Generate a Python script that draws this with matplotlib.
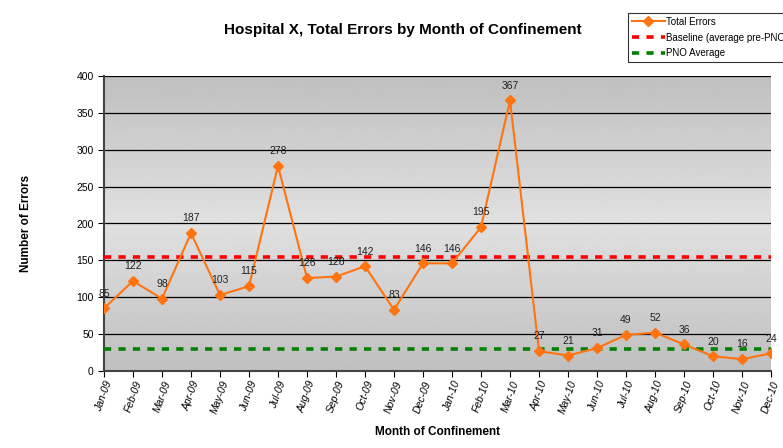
import numpy as np
import matplotlib
matplotlib.use('Agg')
import matplotlib.pyplot as plt

plt.rcParams['font.family'] = ['Liberation Sans', 'DejaVu Sans']

# ── Data ─────────────────────────────────────────────────────────────────────
months = ['Jan-09', 'Feb-09', 'Mar-09', 'Apr-09', 'May-09', 'Jun-09', 'Jul-09', 'Aug-09',
          'Sep-09', 'Oct-09', 'Nov-09', 'Dec-09', 'Jan-10', 'Feb-10', 'Mar-10', 'Apr-10',
          'May-10', 'Jun-10', 'Jul-10', 'Aug-10', 'Sep-10', 'Oct-10', 'Nov-10', 'Dec-10']
total_errors = [85, 122, 98, 187, 103, 115, 278, 126, 128, 142, 83, 146,
                146, 195, 367, 27, 21, 31, 49, 52, 36, 20, 16, 24]
baseline = 155
pno_average = 30

ORANGE = '#FF7410'

# ── Figure ───────────────────────────────────────────────────────────────────
fig = plt.figure(figsize=(7.83, 4.48), dpi=100)
ax = fig.add_axes([104/783, 1 - 371/448, (771 - 104)/783, (371 - 76)/448])

x = np.arange(len(months))

# gradient background: darker at top/bottom, lighter in the middle
t = np.linspace(0, 1, 256)
g = 0.75 + 0.13 * (1 - np.abs(2 * t - 1))
grad = np.repeat(g[:, None], 2, axis=1)
ax.imshow(grad, extent=[0, 1, 0, 1], transform=ax.transAxes, aspect='auto',
          cmap='gray', vmin=0, vmax=1, origin='lower', zorder=0)

ax.set_ylim(0, 400)
ax.set_xlim(0, len(months) - 1)
ax.set_yticks(np.arange(0, 401, 50))
for yv in np.arange(50, 401, 50):
    ax.axhline(yv, color='black', linewidth=0.9, zorder=1)

ax.plot(x, total_errors, '-D', color=ORANGE, markersize=5.5, linewidth=1.5,
        label='Total Errors', zorder=4)
ax.axhline(baseline, color='#FF0000', linestyle=(0, (2, 2)), linewidth=2.6,
           label='Baseline (average pre-PNO)', zorder=3)
ax.axhline(pno_average, color='#008000', linestyle=(0, (2, 2)), linewidth=2.6,
           label='PNO Average', zorder=3)

for xi, v in zip(x, total_errors):
    ax.annotate(str(v), (xi, v), xytext=(0, 7), textcoords='offset points',
                ha='center', va='bottom', fontsize=7.5, color='#222222', zorder=5)

ax.set_xticks(x)
ax.set_xticklabels(months, rotation=70, fontsize=7.5, style='italic', ha='center')
ax.tick_params(axis='y', labelsize=7.5, length=4)
ax.tick_params(axis='x', length=4, pad=2)

for s in ['top', 'right']:
    ax.spines[s].set_visible(False)
for s in ['left', 'bottom']:
    ax.spines[s].set_color('#444444')
    ax.spines[s].set_linewidth(1.5)

ax.set_xlabel('Month of Confinement', fontsize=8.5, fontweight='bold', labelpad=8)
ax.set_ylabel('Number of Errors', fontsize=8.5, fontweight='bold', labelpad=32)

fig.text(403/783, 1 - 30/448, 'Hospital X, Total Errors by Month of Confinement',
         ha='center', va='center', fontsize=11, fontweight='bold')

leg = ax.legend(loc='upper left', bbox_to_anchor=(623/783, 1 - 8/448),
                bbox_transform=fig.transFigure, fontsize=7, frameon=True,
                fancybox=False, edgecolor='black', handlelength=3.4,
                handletextpad=0.1, borderpad=0.4, labelspacing=0.6)
leg.get_frame().set_linewidth(0.8)

plt.savefig('out.png', dpi=100)
plt.close()
